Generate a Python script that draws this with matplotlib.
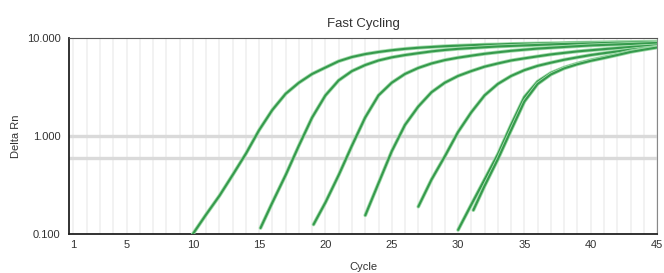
"""
Fast Cycling amplification plot: Delta Rn vs cycle (log scale)
"""
import matplotlib.pyplot as plt
import matplotlib.patheffects as pe

plt.rcParams["font.family"] = ["Liberation Sans", "DejaVu Sans"]

# readings, one list per amplification curve
cycles_a = [10, 11, 12, 13, 14, 15, 16, 17, 18, 19, 20, 21, 22, 23, 24, 25, 26, 27,
            28, 29, 30, 31, 32, 33, 34, 35, 36, 37, 38, 39, 40, 41, 42, 43, 44, 45]
rn_a = [0.10, 0.158, 0.245, 0.40, 0.66, 1.15, 1.85, 2.7, 3.5, 4.3, 5.0, 5.8, 6.4, 6.85,
        7.2, 7.5, 7.75, 7.95, 8.1, 8.25, 8.35, 8.45, 8.55, 8.6, 8.7, 8.75, 8.8, 8.85,
        8.9, 8.95, 9.0, 9.05, 9.1, 9.1, 9.15, 9.2]

cycles_b = [15.1, 16, 17, 18, 19, 20, 21, 22, 23, 24, 25, 26, 27, 28, 29, 30, 31, 32,
            33, 34, 35, 36, 37, 38, 39, 40, 41, 42, 43, 44, 45]
rn_b = [0.115, 0.21, 0.40, 0.80, 1.55, 2.6, 3.7, 4.6, 5.3, 5.9, 6.35, 6.7, 7.0, 7.3,
        7.55, 7.75, 7.9, 8.05, 8.2, 8.3, 8.4, 8.5, 8.6, 8.7, 8.75, 8.8, 8.9, 8.95,
        9.0, 9.05, 9.1]

cycles_c = [19.1, 20, 21, 22, 23, 24, 25, 26, 27, 28, 29, 30, 31, 32, 33, 34, 35, 36,
            37, 38, 39, 40, 41, 42, 43, 44, 45]
rn_c = [0.125, 0.21, 0.40, 0.80, 1.55, 2.6, 3.5, 4.3, 4.95, 5.5, 5.95, 6.3, 6.6, 6.9,
        7.15, 7.4, 7.6, 7.8, 7.95, 8.1, 8.25, 8.4, 8.5, 8.6, 8.7, 8.8, 8.9]

cycles_d = [23.0, 24, 25, 26, 27, 28, 29, 30, 31, 32, 33, 34, 35, 36, 37, 38, 39, 40,
            41, 42, 43, 44, 45]
rn_d = [0.155, 0.33, 0.70, 1.3, 2.0, 2.8, 3.5, 4.1, 4.6, 5.1, 5.5, 5.9, 6.2, 6.5, 6.8,
        7.05, 7.3, 7.5, 7.7, 7.9, 8.1, 8.25, 8.4]

cycles_e = [27.0, 28, 29, 30, 31, 32, 33, 34, 35, 36, 37, 38, 39, 40, 41, 42, 43, 44, 45]
rn_e = [0.19, 0.36, 0.62, 1.1, 1.75, 2.6, 3.4, 4.1, 4.7, 5.2, 5.6, 6.0, 6.35, 6.7, 7.0,
        7.3, 7.6, 7.85, 8.1]

cycles_f = [30.0, 31, 32, 33, 34, 35, 36, 37, 38, 39, 40, 41, 42, 43, 44, 45]
rn_f = [0.11, 0.20, 0.36, 0.65, 1.3, 2.5, 3.6, 4.4, 5.0, 5.5, 5.95, 6.35, 6.8, 7.3, 7.7, 8.1]

cycles_g = [31.15, 32, 33, 34, 35, 36, 37, 38, 39, 40, 41, 42, 43, 44, 45]
rn_g = [0.175, 0.31, 0.58, 1.15, 2.25, 3.4, 4.25, 4.9, 5.4, 5.85, 6.25, 6.7, 7.2, 7.6, 8.0]

curves = [(cycles_a, rn_a), (cycles_b, rn_b), (cycles_c, rn_c), (cycles_d, rn_d),
          (cycles_e, rn_e), (cycles_f, rn_f), (cycles_g, rn_g)]

thresholds = [1.0, 0.6]
x_ticks = [1, 5, 10, 15, 20, 25, 30, 35, 40, 45]
y_ticks = [0.1, 1.0, 10.0]
y_tick_labels = ["0.100", "1.000", "10.000"]

fig = plt.figure(figsize=(6.64, 2.73), dpi=100)
ax = fig.add_axes([0.1039, 0.1429, 0.8856, 0.7179])

# faint vertical line at every cycle
for c in range(1, 46):
    ax.axvline(c, color="#f0f0f0", lw=1.2, zorder=0)

for t in thresholds:
    ax.axhline(t, color="#dadada", lw=2.4, zorder=1)

for cyc, rn in curves:
    ax.plot(
        cyc,
        rn,
        color="#359a4c",
        lw=1.5,
        zorder=5,
        solid_capstyle="round",
        solid_joinstyle="round",
        path_effects=[pe.Stroke(linewidth=2.7, foreground="#a3dbac"), pe.Normal()],
    )

ax.set_yscale("log")
ax.set_xlim(0.66, 45)
ax.set_ylim(0.1, 10.0)

ax.set_xticks(x_ticks)
ax.set_yticks(y_ticks)
ax.set_yticklabels(y_tick_labels)
ax.minorticks_off()
ax.tick_params(length=0, labelsize=8, colors="#333333")
ax.tick_params(axis="x", pad=4)
ax.tick_params(axis="y", pad=6)

for side in ["left", "bottom"]:
    ax.spines[side].set_color("#222222")
    ax.spines[side].set_linewidth(1.3)
ax.spines["top"].set_color("#555555")
ax.spines["right"].set_color("#888888")

ax.set_title("Fast Cycling", fontsize=9.5, color="#333333", pad=8)
ax.set_xlabel("Cycle", fontsize=8, color="#333333", labelpad=9)
ax.set_ylabel("Delta Rn", fontsize=8, color="#333333", labelpad=4)

fig.savefig("out.png", dpi=100)
